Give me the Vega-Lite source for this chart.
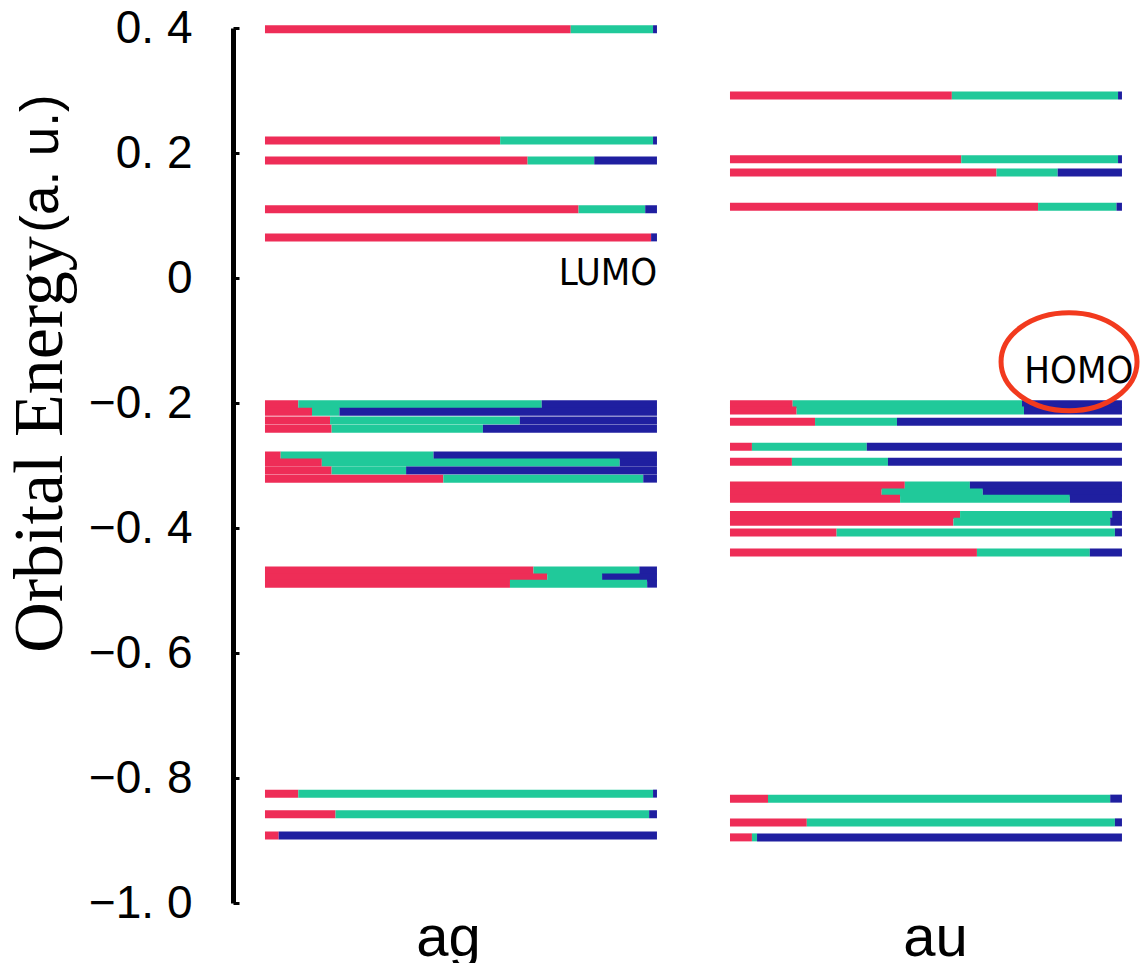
{
  "$schema": "https://vega.github.io/schema/vega-lite/v6.json",
  "background": "white",
  "autosize": {"type": "none"},
  "padding": {"left": 233, "top": 28, "right": 910, "bottom": 935},
  "bounds": "flush",
  "spacing": 35,
  "config": {"view": {"stroke": null}},
  "datasets": {
    "ag": [
      {"E": 0.398, "c": "A", "f": 0.78}, {"E": 0.398, "c": "B", "f": 0.21}, {"E": 0.398, "c": "C", "f": 0.01},
      {"E": 0.220, "c": "A", "f": 0.60}, {"E": 0.220, "c": "B", "f": 0.39}, {"E": 0.220, "c": "C", "f": 0.01},
      {"E": 0.188, "c": "A", "f": 0.67}, {"E": 0.188, "c": "B", "f": 0.17}, {"E": 0.188, "c": "C", "f": 0.16},
      {"E": 0.110, "c": "A", "f": 0.80}, {"E": 0.110, "c": "B", "f": 0.17}, {"E": 0.110, "c": "C", "f": 0.03},
      {"E": 0.065, "c": "A", "f": 0.985}, {"E": 0.065, "c": "C", "f": 0.015},
      {"E": -0.202, "c": "A", "f": 0.085}, {"E": -0.202, "c": "B", "f": 0.621}, {"E": -0.202, "c": "C", "f": 0.294},
      {"E": -0.214, "c": "A", "f": 0.12}, {"E": -0.214, "c": "B", "f": 0.07}, {"E": -0.214, "c": "C", "f": 0.81},
      {"E": -0.228, "c": "A", "f": 0.166}, {"E": -0.228, "c": "B", "f": 0.484}, {"E": -0.228, "c": "C", "f": 0.35},
      {"E": -0.241, "c": "A", "f": 0.17}, {"E": -0.241, "c": "B", "f": 0.386}, {"E": -0.241, "c": "C", "f": 0.444},
      {"E": -0.284, "c": "A", "f": 0.04}, {"E": -0.284, "c": "B", "f": 0.39}, {"E": -0.284, "c": "C", "f": 0.57},
      {"E": -0.295, "c": "A", "f": 0.145}, {"E": -0.295, "c": "B", "f": 0.76}, {"E": -0.295, "c": "C", "f": 0.095},
      {"E": -0.308, "c": "A", "f": 0.17}, {"E": -0.308, "c": "B", "f": 0.19}, {"E": -0.308, "c": "C", "f": 0.64},
      {"E": -0.321, "c": "A", "f": 0.455}, {"E": -0.321, "c": "B", "f": 0.51}, {"E": -0.321, "c": "C", "f": 0.035},
      {"E": -0.468, "c": "A", "f": 0.685}, {"E": -0.468, "c": "B", "f": 0.27}, {"E": -0.468, "c": "C", "f": 0.045},
      {"E": -0.479, "c": "A", "f": 0.72}, {"E": -0.479, "c": "B", "f": 0.14}, {"E": -0.479, "c": "C", "f": 0.14},
      {"E": -0.489, "c": "A", "f": 0.625}, {"E": -0.489, "c": "B", "f": 0.35}, {"E": -0.489, "c": "C", "f": 0.025},
      {"E": -0.825, "c": "A", "f": 0.085}, {"E": -0.825, "c": "B", "f": 0.905}, {"E": -0.825, "c": "C", "f": 0.01},
      {"E": -0.858, "c": "A", "f": 0.18}, {"E": -0.858, "c": "B", "f": 0.80}, {"E": -0.858, "c": "C", "f": 0.02},
      {"E": -0.892, "c": "A", "f": 0.035}, {"E": -0.892, "c": "C", "f": 0.965}
    ],
    "au": [
      {"E": 0.292, "c": "A", "f": 0.566}, {"E": 0.292, "c": "B", "f": 0.424}, {"E": 0.292, "c": "C", "f": 0.01},
      {"E": 0.190, "c": "A", "f": 0.59}, {"E": 0.190, "c": "B", "f": 0.40}, {"E": 0.190, "c": "C", "f": 0.01},
      {"E": 0.169, "c": "A", "f": 0.68}, {"E": 0.169, "c": "B", "f": 0.156}, {"E": 0.169, "c": "C", "f": 0.164},
      {"E": 0.114, "c": "A", "f": 0.786}, {"E": 0.114, "c": "B", "f": 0.20}, {"E": 0.114, "c": "C", "f": 0.014},
      {"E": -0.202, "c": "A", "f": 0.16}, {"E": -0.202, "c": "B", "f": 0.585}, {"E": -0.202, "c": "C", "f": 0.255},
      {"E": -0.212, "c": "A", "f": 0.17}, {"E": -0.212, "c": "B", "f": 0.58}, {"E": -0.212, "c": "C", "f": 0.25},
      {"E": -0.230, "c": "A", "f": 0.217}, {"E": -0.230, "c": "B", "f": 0.209}, {"E": -0.230, "c": "C", "f": 0.574},
      {"E": -0.270, "c": "A", "f": 0.056}, {"E": -0.270, "c": "B", "f": 0.293}, {"E": -0.270, "c": "C", "f": 0.651},
      {"E": -0.294, "c": "A", "f": 0.158}, {"E": -0.294, "c": "B", "f": 0.245}, {"E": -0.294, "c": "C", "f": 0.597},
      {"E": -0.332, "c": "A", "f": 0.446}, {"E": -0.332, "c": "B", "f": 0.166}, {"E": -0.332, "c": "C", "f": 0.388},
      {"E": -0.343, "c": "A", "f": 0.387}, {"E": -0.343, "c": "B", "f": 0.258}, {"E": -0.343, "c": "C", "f": 0.355},
      {"E": -0.353, "c": "A", "f": 0.434}, {"E": -0.353, "c": "B", "f": 0.433}, {"E": -0.353, "c": "C", "f": 0.133},
      {"E": -0.379, "c": "A", "f": 0.587}, {"E": -0.379, "c": "B", "f": 0.388}, {"E": -0.379, "c": "C", "f": 0.025},
      {"E": -0.390, "c": "A", "f": 0.57}, {"E": -0.390, "c": "B", "f": 0.40}, {"E": -0.390, "c": "C", "f": 0.03},
      {"E": -0.407, "c": "A", "f": 0.272}, {"E": -0.407, "c": "B", "f": 0.71}, {"E": -0.407, "c": "C", "f": 0.018},
      {"E": -0.439, "c": "A", "f": 0.63}, {"E": -0.439, "c": "B", "f": 0.288}, {"E": -0.439, "c": "C", "f": 0.082},
      {"E": -0.833, "c": "A", "f": 0.097}, {"E": -0.833, "c": "B", "f": 0.873}, {"E": -0.833, "c": "C", "f": 0.03},
      {"E": -0.871, "c": "A", "f": 0.196}, {"E": -0.871, "c": "B", "f": 0.786}, {"E": -0.871, "c": "C", "f": 0.018},
      {"E": -0.895, "c": "A", "f": 0.056}, {"E": -0.895, "c": "B", "f": 0.013}, {"E": -0.895, "c": "C", "f": 0.931}
    ],
    "agNote": [{"E": 0.007, "f": 0.875, "label": "LUMO"}],
    "auNote": [{"E": -0.150, "f": 0.89, "label": "HOMO"}],
    "auRing": [{"E": -0.134, "f": 0.865}]
  },
  "hconcat": [
    {
      "width": 430,
      "height": 875,
      "layer": [
        {
          "data": {"name": "ag"},
          "mark": {"type": "bar", "orient": "horizontal", "size": 8},
          "encoding": {
            "y": {
              "field": "E", "type": "quantitative",
              "scale": {"domain": [-1, 0.4], "nice": false, "zero": false, "padding": 0},
              "axis": {
                "values": [-1, -0.8, -0.6, -0.4, -0.2, 0, 0.2, 0.4],
                "labelExpr": "datum.value == 0 ? '0' : replace(format(datum.value, '.1f'), '.', '. ')",
                "labelFont": "Liberation Sans", "labelFontSize": 46, "labelColor": "black",
                "labelPadding": 47, "labelFlush": false, "labelOverlap": false,
                "tickSize": -6, "tickWidth": 3, "tickColor": "black",
                "domainColor": "black", "domainWidth": 5, "grid": false,
                "title": "Orbital Energy", "titleFont": "Liberation Serif",
                "titleFontSize": 70, "titleFontWeight": "normal", "titleColor": "black",
                "titlePadding": 12, "titleY": 416
              }
            },
            "x": {
              "field": "f", "type": "quantitative", "stack": "zero",
              "scale": {"domain": [-0.0816, 1.0154], "nice": false, "zero": false, "padding": 0},
              "axis": {
                "labels": false, "ticks": false, "domain": false, "grid": false,
                "title": "ag", "titleFont": "Liberation Sans", "titleFontSize": 58,
                "titleFontWeight": "normal", "titleColor": "black", "titlePadding": 6
              }
            },
            "color": {
              "field": "c", "type": "nominal",
              "scale": {"domain": ["A", "B", "C"], "range": ["#EE2D57", "#20C99A", "#1F1FA0"]},
              "legend": null
            },
            "order": {"field": "c"}
          }
        },
        {
          "data": {"name": "agNote"},
          "mark": {"type": "text", "font": "DejaVu Sans Condensed, Liberation Sans Narrow, Liberation Sans", "fontSize": 38, "color": "black", "align": "center", "baseline": "middle"},
          "encoding": {
            "y": {"field": "E", "type": "quantitative"},
            "x": {"field": "f", "type": "quantitative"},
            "text": {"field": "label"}
          }
        }
      ]
    },
    {
      "width": 430,
      "height": 875,
      "layer": [
        {
          "data": {"name": "au"},
          "mark": {"type": "bar", "orient": "horizontal", "size": 8},
          "encoding": {
            "y": {
              "field": "E", "type": "quantitative",
              "scale": {"domain": [-1, 0.4], "nice": false, "zero": false, "padding": 0},
              "axis": {
                "orient": "left", "labels": false, "ticks": false, "domain": false, "grid": false,
                "title": "(a. u.)", "titleFont": "Liberation Sans", "titleFontSize": 53,
                "titleFontWeight": "normal", "titleColor": "black",
                "titleAngle": -90, "titleBaseline": "bottom", "titleAlign": "center",
                "titleX": -630, "titleY": 135
              }
            },
            "x": {
              "field": "f", "type": "quantitative", "stack": "zero",
              "scale": {"domain": [-0.0816, 1.0154], "nice": false, "zero": false, "padding": 0},
              "axis": {
                "labels": false, "ticks": false, "domain": false, "grid": false,
                "title": "au", "titleFont": "Liberation Sans", "titleFontSize": 58,
                "titleFontWeight": "normal", "titleColor": "black", "titlePadding": 6,
                "titleX": 237
              }
            },
            "color": {
              "field": "c", "type": "nominal",
              "scale": {"domain": ["A", "B", "C"], "range": ["#EE2D57", "#20C99A", "#1F1FA0"]},
              "legend": null
            },
            "order": {"field": "c"}
          }
        },
        {
          "data": {"name": "auNote"},
          "mark": {"type": "text", "font": "DejaVu Sans Condensed, Liberation Sans Narrow, Liberation Sans", "fontSize": 38, "color": "black", "align": "center", "baseline": "middle"},
          "encoding": {
            "y": {"field": "E", "type": "quantitative"},
            "x": {"field": "f", "type": "quantitative"},
            "text": {"field": "label"}
          }
        },
        {
          "data": {"name": "auRing"},
          "mark": {"type": "point", "shape": "M -1 0 A 1 0.72 0 1 1 1 0 A 1 0.72 0 1 1 -1 0 Z", "size": 18496, "filled": false, "stroke": "#F23A1E", "strokeWidth": 5, "opacity": 1},
          "encoding": {
            "y": {"field": "E", "type": "quantitative"},
            "x": {"field": "f", "type": "quantitative"}
          }
        }
      ]
    }
  ]
}
